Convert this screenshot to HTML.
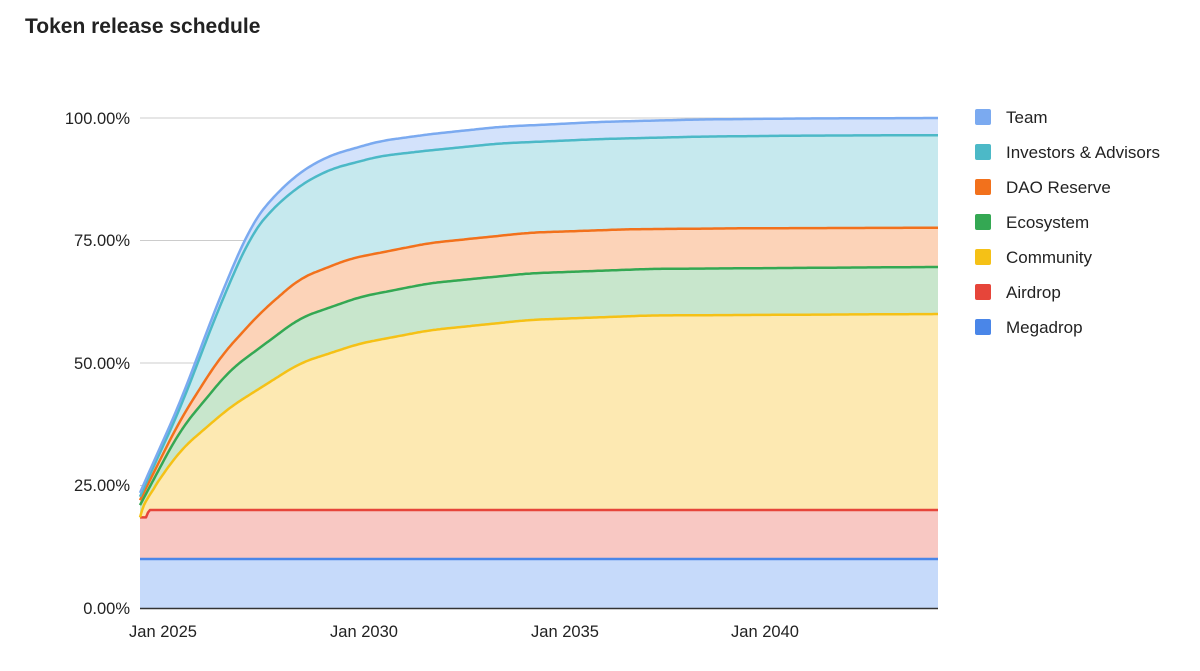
<!DOCTYPE html>
<html><head><meta charset="utf-8"><style>
body{margin:0;background:#fff;width:1200px;height:666px;overflow:hidden;font-family:"Liberation Sans",Arial,sans-serif}
</style></head><body>
<svg id="s" width="1200" height="666" xmlns="http://www.w3.org/2000/svg" font-family="Liberation Sans, Arial, sans-serif">
<text x="25" y="33" font-size="21" font-weight="bold" fill="#222">Token release schedule</text>
<g stroke="#ccc" stroke-width="1">
<line x1="140" x2="938" y1="118" y2="118"/><line x1="140" x2="938" y1="240.5" y2="240.5"/>
<line x1="140" x2="938" y1="363" y2="363"/><line x1="140" x2="938" y1="485.5" y2="485.5"/>
</g>
<g id="areas"></g>
<line x1="140" x2="938" y1="608.5" y2="608.5" stroke="#333" stroke-width="1.5"/>
<g font-size="16.5" fill="#222" text-anchor="end">
<text x="130" y="124">100.00%</text><text x="130" y="246">75.00%</text>
<text x="130" y="369">50.00%</text><text x="130" y="491">25.00%</text><text x="130" y="614">0.00%</text>
</g>
<g font-size="16.5" fill="#222" text-anchor="middle">
<text x="163" y="637">Jan 2025</text><text x="364" y="637">Jan 2030</text>
<text x="565" y="637">Jan 2035</text><text x="765" y="637">Jan 2040</text>
</g>
<g font-size="17" fill="#222">
<rect x="975" y="109" width="16" height="16" rx="2" fill="#7baaf0"/><text x="1006" y="123">Team</text>
<rect x="975" y="144" width="16" height="16" rx="2" fill="#4cb9c7"/><text x="1006" y="158">Investors &amp; Advisors</text>
<rect x="975" y="179" width="16" height="16" rx="2" fill="#f2711c"/><text x="1006" y="193">DAO Reserve</text>
<rect x="975" y="214" width="16" height="16" rx="2" fill="#34a853"/><text x="1006" y="228">Ecosystem</text>
<rect x="975" y="249" width="16" height="16" rx="2" fill="#f5c116"/><text x="1006" y="263">Community</text>
<rect x="975" y="284" width="16" height="16" rx="2" fill="#e6453a"/><text x="1006" y="298">Airdrop</text>
<rect x="975" y="319" width="16" height="16" rx="2" fill="#4a86e8"/><text x="1006" y="333">Megadrop</text>
</g>
</svg>
<script>
function interp(k,x){if(x<=k[0][0])return k[0][1];for(var i=1;i<k.length;i++){if(x<=k[i][0]){var a=k[i-1],b=k[i];return a[1]+(b[1]-a[1])*(x-a[0])/(b[0]-a[0]);}}return k[k.length-1][1];}
function smooth(k,w0){return function(x){var w=Math.min(w0,Math.max(0,x-140));var lo=x-w,hi=Math.min(938,x+w);var s=0,n=0;for(var t=lo;t<=hi;t+=1){s+=interp(k,t);n++;}return s/n;};}
var team=[[140,23.5],[150,28.2],[180,41.8],[200,52.7],[220,63.5],[240,73],[250,77.8],[270,83.3],[300,89],[330,92.4],[380,95.3],[430,96.7],[500,98.2],[600,99.2],[700,99.7],[800,99.9],[938,100]];
var gap=[[140,0.8],[250,2],[300,2.7],[430,3.3],[600,3.5],[938,3.5]];
var dao=[[140,22],[180,38.4],[220,51.2],[260,60.2],[300,67.3],[350,71.3],[430,74.5],[530,76.6],[630,77.3],[750,77.5],[938,77.6]];
var eco=[[140,21],[180,36.3],[230,48.6],[300,59.2],[360,63.5],[430,66.3],[530,68.3],[650,69.2],[938,69.6]];
var com=[[140,18.5],[145,22],[180,32.2],[230,41],[300,50],[360,54],[430,56.7],[530,58.8],[650,59.7],[938,60]];
var air=[[140,18.5],[146,18.5],[149,20],[938,20]];
var meg=[[140,10],[938,10]];
function Y(p){return 608-p*4.9;}
var xs=[];for(var x=140;x<=938;x+=2)xs.push(x);
function f(k){return function(x){return interp(k,x);};}
var T=smooth(team,14),G=smooth(gap,14),D=smooth(dao,14),E=smooth(eco,14),C=smooth(com,14);
function I(x){return T(x)-G(x);}
var ser=[
 [f(meg),function(){return 0;},"#c6dafa","#4a86e8"],
 [f(air),f(meg),"#f8c8c3","#e6453a"],
 [C,f(air),"#fde9b2","#f5c116"],
 [E,C,"#c8e6cc","#34a853"],
 [D,E,"#fcd3b8","#f2711c"],
 [I,D,"#c6e9ee","#4cb9c7"],
 [T,I,"#d3e2fb","#7baaf0"]
];
var g=document.getElementById("areas"),h="",lines="";
ser.forEach(function(s){
 var top=xs.map(function(x){return x+","+Y(s[0](x)).toFixed(1);});
 var bot=xs.slice().reverse().map(function(x){return x+","+Y(s[1](x)).toFixed(1);});
 h+='<polygon points="'+top.join(" ")+" "+bot.join(" ")+'" fill="'+s[2]+'"/>';
 lines+='<polyline points="'+top.join(" ")+'" fill="none" stroke="'+s[3]+'" stroke-width="2.5" stroke-linejoin="round"/>';
});
g.innerHTML=h+lines;
</script>
</body></html>
